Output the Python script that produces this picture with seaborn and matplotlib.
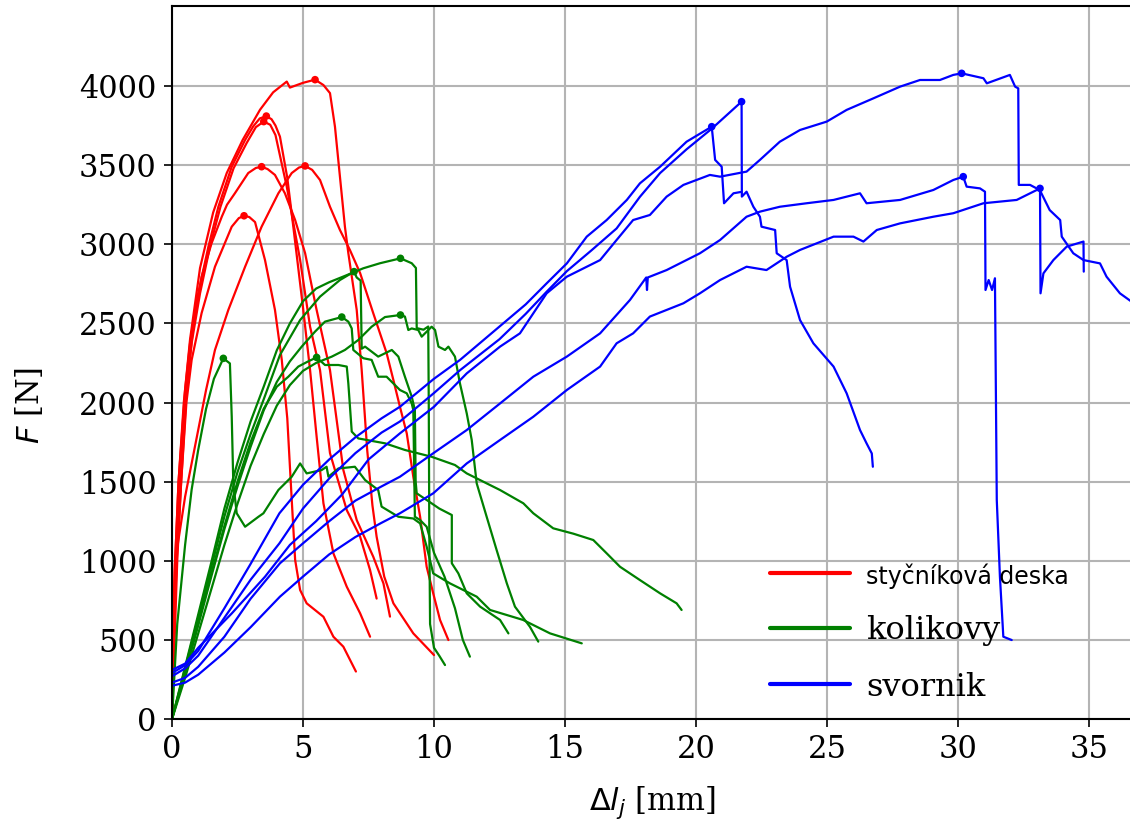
# Silově-deformační křivky spojů: styčníková deska, kolíkové spoje, svorníky
import matplotlib
matplotlib.use("Agg")
import matplotlib.pyplot as plt
import seaborn as sns
import pandas as pd
from matplotlib.lines import Line2D

# --- styčníková deska (dl [mm], F [N]) ---
deska_a = [(0, 0), (0.05, 500), (0.12, 1000), (0.25, 1500), (0.45, 2000), (0.69, 2400), (1.07, 2850),
           (1.57, 3200), (2.09, 3450), (2.7, 3660), (3.36, 3850), (3.86, 3960), (4.38, 4028), (4.5, 3990),
           (5.0, 4020), (5.46, 4040), (5.78, 4006), (6.03, 3955), (6.22, 3743), (6.41, 3427), (6.6, 3111),
           (6.73, 2944), (7.05, 2585), (7.24, 2205), (7.45, 1700), (7.65, 1350), (7.81, 1152), (8.1, 900),
           (8.45, 731), (9.21, 541), (10.0, 404)]
deska_b = [(0, 0), (0.05, 500), (0.12, 1000), (0.25, 1500), (0.5, 2079), (0.69, 2376), (1.0, 2690),
           (1.39, 2985), (1.77, 3237), (2.28, 3490), (2.79, 3659), (3.1, 3745), (3.35, 3795), (3.6, 3810),
           (3.8, 3790), (3.95, 3750), (4.12, 3680), (4.4, 3420), (4.63, 3111), (5.0, 2600), (5.27, 2205),
           (5.52, 1784), (5.78, 1363), (6.16, 1047), (6.67, 836), (7.18, 668), (7.56, 520)]
deska_c = [(0, 0), (0.06, 500), (0.14, 1000), (0.3, 1500), (0.55, 2079), (0.75, 2376), (1.07, 2690),
           (1.45, 2985), (1.85, 3237), (2.35, 3480), (2.85, 3640), (3.2, 3740), (3.5, 3775), (3.75, 3755),
           (3.95, 3690), (4.38, 3364), (4.89, 2900), (5.27, 2479), (5.65, 2205), (6.03, 1680), (6.67, 1320),
           (7.18, 1152), (7.56, 941), (7.81, 761)]
deska_d = [(0, 0), (0.07, 500), (0.18, 1000), (0.35, 1500), (0.56, 2079), (0.81, 2479), (1.13, 2795),
           (1.51, 3006), (1.9, 3174), (2.1, 3250), (2.4, 3322), (2.91, 3450), (3.2, 3482), (3.42, 3490),
           (3.65, 3475), (3.93, 3438), (4.31, 3322), (4.7, 3153), (5.08, 2944), (5.5, 2600), (6.03, 2205),
           (6.54, 1573), (7.05, 1257), (7.68, 1026), (8.07, 857), (8.32, 647)]
deska_e = [(0, 0), (0.05, 600), (0.11, 985), (0.5, 1405), (1.0, 1826), (1.3, 2079), (1.64, 2332),
           (2.15, 2585), (2.79, 2858), (3.42, 3111), (4.06, 3322), (4.57, 3450), (4.85, 3485), (5.08, 3495),
           (5.35, 3470), (5.65, 3406), (6.03, 3237), (6.41, 3090), (6.79, 2964), (7.18, 2818), (7.68, 2565),
           (8.19, 2313), (8.45, 2142), (8.7, 1973), (8.96, 1805), (9.21, 1531), (9.47, 1278), (9.72, 962),
           (9.97, 794), (10.23, 626), (10.55, 499)]
deska_f = [(0, 0), (0.1, 500), (0.2, 1000), (0.35, 1500), (0.55, 2000), (0.75, 2269), (1.13, 2565),
           (1.64, 2858), (2.28, 3111), (2.55, 3165), (2.75, 3180), (2.95, 3172), (3.17, 3140), (3.55, 2900),
           (3.93, 2585), (4.19, 2269), (4.4, 1900), (4.57, 1384), (4.7, 1005), (4.89, 815), (5.14, 731),
           (5.78, 646), (6.16, 520), (6.54, 457), (7.02, 300)]

# --- kolikovy ---
kolik_1 = [(0, 0), (0.2, 600), (0.5, 1100), (0.75, 1450), (1.0, 1700), (1.3, 1960), (1.6, 2150), (1.96, 2279),
           (2.21, 2247), (2.28, 1910), (2.34, 1489), (2.47, 1300), (2.79, 1215), (3.3, 1278), (3.49, 1300),
           (4.06, 1447), (4.57, 1531), (4.89, 1615), (5.14, 1552), (5.71, 1573), (5.9, 1594), (5.97, 1531),
           (6.35, 1583), (6.98, 1594), (7.37, 1510), (7.87, 1447), (8.0, 1342), (8.64, 1278), (9.21, 1267),
           (9.47, 1236), (9.72, 1089), (9.97, 920), (10.61, 857), (11.63, 773), (12.14, 689), (13.4, 626),
           (14.43, 541), (15.64, 478)]
kolik_2 = [(0, 0), (0.5, 330), (1.0, 660), (1.5, 990), (2.0, 1330), (2.5, 1620), (3.0, 1880), (3.5, 2100),
           (4.0, 2330), (4.5, 2500), (5.0, 2640), (5.5, 2720), (6.0, 2760), (6.6, 2800), (7.3, 2848),
           (7.94, 2880), (8.72, 2911), (9.15, 2880), (9.31, 2850), (9.34, 2470), (9.6, 2460), (9.78, 2480),
           (9.8, 2000), (9.82, 1200), (9.85, 600), (10.0, 450), (10.2, 400), (10.42, 341)]
kolik_3 = [(0, 0), (0.5, 260), (1.0, 540), (1.5, 820), (2.0, 1100), (2.5, 1360), (3.0, 1600), (3.5, 1800),
           (4.0, 1980), (4.5, 2110), (5.0, 2200), (5.5, 2250), (6.1, 2290), (6.6, 2332), (7.11, 2395),
           (7.62, 2479), (8.13, 2540), (8.72, 2553), (8.89, 2543), (9.02, 2458), (9.15, 2468), (9.4, 2458),
           (9.53, 2416), (9.91, 2479), (10.04, 2458), (10.17, 2353), (10.42, 2332), (10.55, 2353), (10.8, 2290),
           (10.99, 2121), (11.25, 1931), (11.44, 1763), (11.63, 1489), (12.01, 1278), (12.39, 1068),
           (12.78, 857), (13.09, 710), (13.66, 583), (13.98, 489)]
kolik_4 = [(0, 0), (0.5, 320), (1.0, 640), (1.5, 960), (2.0, 1280), (2.5, 1560), (3.0, 1800), (3.5, 2020),
           (4.12, 2300), (4.89, 2521), (5.65, 2669), (6.41, 2774), (6.95, 2827), (7.05, 2790), (7.2, 2770),
           (7.24, 2340), (7.37, 2353), (7.87, 2290), (8.39, 2332), (8.64, 2290), (8.89, 2163), (9.15, 2037),
           (9.27, 1952), (9.3, 1500), (9.34, 1426), (9.72, 1384), (10.2, 1330), (10.68, 1289), (10.68, 984),
           (10.93, 920), (11.25, 794), (11.76, 710), (12.52, 626), (12.84, 541)]
kolik_5 = [(0, 0), (0.5, 300), (1.0, 610), (1.5, 920), (2.0, 1220), (2.5, 1500), (3.0, 1750), (3.5, 1960),
           (4.0, 2100), (4.44, 2163), (4.82, 2227), (5.2, 2260), (5.52, 2285), (5.84, 2237), (6.35, 2237),
           (6.67, 2227), (6.73, 2121), (6.86, 1816), (7.11, 1773), (8.13, 1742), (8.89, 1700), (9.91, 1657),
           (10.8, 1605), (11.25, 1552), (12.01, 1489), (12.52, 1447), (13.41, 1363), (13.79, 1300),
           (14.55, 1205), (15.32, 1171), (16.08, 1131), (16.59, 1047), (17.1, 962), (17.86, 878),
           (18.63, 794), (19.26, 731), (19.45, 689)]
kolik_6 = [(0, 0), (0.5, 290), (1.0, 590), (1.5, 900), (2.0, 1200), (2.5, 1470), (3.0, 1720), (3.5, 1950),
           (4.0, 2130), (4.5, 2260), (4.95, 2353), (5.46, 2448), (5.84, 2511), (6.48, 2540), (6.73, 2511),
           (6.86, 2468), (6.92, 2332), (7.3, 2280), (7.62, 2269), (7.87, 2163), (8.19, 2163), (8.7, 2079),
           (8.96, 2058), (9.15, 1994), (9.21, 1952), (9.27, 1278), (9.47, 1257), (9.72, 1215), (10.0, 1050),
           (10.4, 900), (10.8, 700), (11.1, 500), (11.37, 394)]

# --- svornik ---
svornik_1 = [(0, 290), (0.5, 340), (1.0, 430), (2.0, 700), (3.0, 980), (4.1, 1300), (5.0, 1480), (6.0, 1640),
             (7.0, 1780), (8.0, 1900), (8.7, 1973), (10.0, 2150), (11.0, 2270), (12.5, 2480), (13.5, 2620),
             (14.3, 2753), (15.07, 2879), (15.83, 3048), (16.59, 3153), (17.36, 3280), (17.86, 3385),
             (18.63, 3490), (19.64, 3648), (20.6, 3743), (20.73, 3533), (20.98, 3490), (21.07, 3259),
             (21.43, 3322), (21.7, 3330)]
svornik_2 = [(0, 270), (0.5, 320), (1.0, 400), (2.0, 640), (3.0, 880), (4.1, 1110), (5.0, 1330), (6.0, 1520),
             (7.0, 1680), (8.0, 1810), (8.7, 1880), (10.0, 2060), (11.0, 2205), (12.5, 2400), (13.5, 2560),
             (14.3, 2700), (15.07, 2830), (16.0, 2960), (16.97, 3100), (17.86, 3300), (18.63, 3450),
             (19.64, 3600), (20.6, 3730), (21.74, 3901), (21.75, 3301), (21.93, 3332), (22.19, 3237),
             (22.44, 3174), (22.5, 3111), (23.02, 3090), (23.08, 2943), (23.46, 2900), (23.59, 2732),
             (23.97, 2521), (24.48, 2374), (25.25, 2227), (25.75, 2058), (26.26, 1826), (26.51, 1742),
             (26.71, 1678), (26.75, 1594)]
svornik_3 = [(0, 310), (0.5, 350), (1.0, 450), (2.28, 667), (3.55, 899), (4.5, 1100), (5.5, 1250), (6.5, 1420),
             (7.5, 1640), (8.7, 1805), (10.0, 1973), (11.25, 2184), (12.52, 2353), (13.28, 2437), (14.3, 2690),
             (15.07, 2795), (16.34, 2900), (16.97, 3027), (17.6, 3153), (18.24, 3185), (18.88, 3301),
             (19.52, 3375), (20.53, 3438), (20.92, 3427), (21.93, 3459), (22.44, 3533), (23.2, 3648),
             (23.97, 3722), (24.99, 3775), (25.75, 3849), (26.77, 3922), (27.79, 3996), (28.55, 4038),
             (29.31, 4038), (29.82, 4070), (30.14, 4080), (30.97, 4049), (31.1, 4017), (31.98, 4070),
             (32.18, 3996), (32.3, 3985), (32.32, 3375), (32.75, 3375), (33.0, 3353), (33.13, 3340),
             (33.5, 3216), (33.9, 3153), (33.96, 3048), (34.4, 2943), (34.79, 2900), (35.42, 2879),
             (35.67, 2795), (36.18, 2690), (36.6, 2640)]
svornik_4 = [(0, 230), (0.5, 260), (1.0, 330), (2.0, 520), (3.0, 760), (4.12, 984), (5.0, 1110), (6.0, 1250),
             (7.0, 1380), (8.0, 1470), (8.7, 1531), (9.97, 1679), (11.25, 1826), (12.52, 1994), (13.79, 2163),
             (15.07, 2290), (16.34, 2437), (17.48, 2648), (18.1, 2790), (18.13, 2711), (18.16, 2790),
             (18.88, 2837), (20.15, 2943), (20.92, 3027), (21.93, 3174), (22.44, 3206), (23.2, 3237),
             (24.22, 3259), (25.25, 3280), (26.26, 3322), (26.51, 3259), (27.79, 3280), (29.06, 3343),
             (29.82, 3406), (30.2, 3427), (30.33, 3364), (30.84, 3353), (31.03, 3332), (31.05, 2711),
             (31.17, 2774), (31.3, 2711), (31.41, 2785), (31.48, 1384), (31.6, 900), (31.73, 520), (32.05, 499)]
svornik_5 = [(0, 210), (0.5, 230), (1.0, 280), (2.0, 420), (3.0, 580), (4.12, 773), (5.0, 900), (6.0, 1040),
             (7.0, 1150), (8.0, 1240), (8.7, 1300), (9.97, 1426), (11.25, 1615), (12.52, 1763), (13.79, 1910),
             (15.07, 2079), (16.34, 2227), (16.97, 2374), (17.6, 2437), (18.24, 2543), (19.52, 2627),
             (20.15, 2690), (20.92, 2774), (21.93, 2858), (22.69, 2837), (23.46, 2921), (23.97, 2964),
             (25.25, 3048), (26.01, 3048), (26.39, 3017), (26.9, 3090), (27.79, 3132), (29.06, 3174),
             (29.82, 3196), (30.97, 3259), (32.24, 3280), (33.13, 3353), (33.15, 2690), (33.26, 2816),
             (33.64, 2900), (34.15, 2985), (34.79, 3017), (34.8, 2827)]

skupiny = ["styčníková deska", "kolikovy", "svornik"]
barvy = {"styčníková deska": "#ff0000", "kolikovy": "#008000", "svornik": "#0000ff"}
krivky = {
    "styčníková deska": [deska_a, deska_b, deska_c, deska_d, deska_e, deska_f],
    "kolikovy": [kolik_1, kolik_2, kolik_3, kolik_4, kolik_5, kolik_6],
    "svornik": [svornik_1, svornik_2, svornik_3, svornik_4, svornik_5],
}

# Tabulka pro seaborn
radky = []
for skupina, seznam in krivky.items():
    for i, krivka in enumerate(seznam):
        for dl, F in krivka:
            radky.append((skupina, f"{skupina} {i}", dl, F))
df = pd.DataFrame(radky, columns=["skupina", "id", "dl", "F"])

sns.set_style("ticks")
plt.rcParams["font.family"] = ["DejaVu Serif"]
plt.rcParams["mathtext.fontset"] = "dejavusans"
# černý text místo šedé ze seabornu
plt.rcParams["text.color"] = "black"
plt.rcParams["axes.labelcolor"] = "black"
plt.rcParams["xtick.color"] = "black"
plt.rcParams["ytick.color"] = "black"

fig = plt.figure(figsize=(11.3, 8.23), dpi=100)
ax = fig.add_axes([172 / 1130, 104 / 823, 968 / 1130, 713 / 823])

sns.lineplot(data=df, x="dl", y="F", hue="skupina", hue_order=skupiny, units="id",
             estimator=None, sort=False, palette=barvy, linewidth=1.6, legend=False, ax=ax)

# body maxima každé křivky
vrcholy = df.loc[df.groupby("id")["F"].idxmax()]
sns.scatterplot(data=vrcholy, x="dl", y="F", hue="skupina", hue_order=skupiny, palette=barvy,
                s=30, linewidth=0, legend=False, ax=ax, zorder=3)

ax.set_xlim(0, 968 / 26.2)
ax.set_ylim(0, 713 / 0.15825)
ax.set_xticks(range(0, 40, 5))
ax.set_yticks(range(0, 4500, 500))
ax.grid(True, color="#b4b4b4", linewidth=1.5)
ax.set_axisbelow(True)
ax.tick_params(labelsize=22, length=6, width=1.2, pad=5, colors="black")
for s in ax.spines.values():
    s.set_color("black")
    s.set_linewidth(1.5)

ax.set_xlabel(r"$\Delta l_j$ [mm]", fontsize=22, color="black")
ax.set_ylabel(r"$F$ [N]", fontsize=22, color="black")
ax.xaxis.set_label_coords(0.496, -0.092)
ax.yaxis.set_label_coords(-0.13, 0.44)

# Legenda
ruce = [Line2D([], [], color=barvy[s], linewidth=3) for s in skupiny]
leg = ax.legend(ruce, skupiny, loc="upper left", bbox_to_anchor=(0.656, 0.352),
                bbox_transform=fig.transFigure, frameon=False, fontsize=23,
                handlelength=2.5, handletextpad=0.5, labelspacing=0.8)
for t in leg.get_texts():
    t.set_color("black")
leg.get_texts()[0].set_fontfamily("DejaVu Sans")
leg.get_texts()[0].set_fontsize(17)

fig.savefig("out.png", dpi=100)
